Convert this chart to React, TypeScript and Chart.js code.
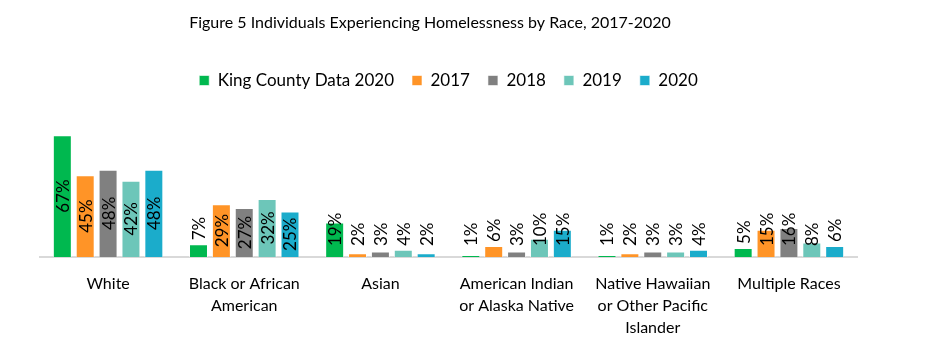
import React, { useEffect, useRef } from "react";
import { Chart, registerables } from "chart.js";

Chart.register(...registerables);

const categories: (string | string[])[] = [
  "White",
  ["Black or African", "American"],
  "Asian",
  ["American Indian", "or Alaska Native"],
  ["Native Hawaiian", "or Other Pacific", "Islander"],
  "Multiple Races",
];
const seriesNames = ["King County Data 2020", "2017", "2018", "2019", "2020"];
const kingCounty2020 = [67, 7, 19, 1, 1, 5];
const y2017 = [45, 29, 2, 6, 2, 15];
const y2018 = [48, 27, 3, 3, 3, 16];
const y2019 = [42, 32, 4, 10, 3, 8];
const y2020 = [48, 25, 2, 15, 4, 6];
const colors = ["#00B84F", "#FF9427", "#808080", "#6DC6B9", "#1BACCB"];
const titleText = "Figure 5 Individuals Experiencing Homelessness by Race, 2017-2020";

const FONT = "Lato, 'Liberation Sans', sans-serif";

const titlePlugin = {
  id: "customTitle",
  afterDraw(chart: any) {
    const ctx = chart.ctx;
    ctx.save();
    ctx.font = `16px ${FONT}`;
    ctx.fillStyle = "#000";
    ctx.textAlign = "center";
    ctx.textBaseline = "middle";
    ctx.fillText(titleText, 430, 23);
    ctx.restore();
  },
};

const barLabelPlugin = {
  id: "barLabels",
  afterDatasetsDraw(chart: any) {
    const ctx = chart.ctx;
    ctx.save();
    ctx.font = `17px ${FONT}`;
    ctx.fillStyle = "#000";
    chart.data.datasets.forEach((ds: any, di: number) => {
      const meta = chart.getDatasetMeta(di);
      meta.data.forEach((bar: any, i: number) => {
        const text = ds.data[i] + "%";
        const w = ctx.measureText(text).width;
        const top = bar.y;
        const base = bar.base;
        const h = base - top;
        ctx.save();
        ctx.translate(bar.x, 0);
        ctx.rotate(-Math.PI / 2);
        ctx.textBaseline = "middle";
        if (h >= w + 4) {
          ctx.textAlign = "center";
          ctx.fillText(text, -(top + base) / 2, 1);
        } else {
          let bottom = base - 11;
          if (h <= 14) bottom = Math.min(base - 11, top - 4);
          ctx.textAlign = "left";
          ctx.fillText(text, -bottom, 1);
        }
        ctx.restore();
      });
    });
    ctx.restore();
  },
};

export default function App() {
  const ref = useRef<HTMLCanvasElement>(null);
  useEffect(() => {
    document.body.style.margin = "0";
    const series = [kingCounty2020, y2017, y2018, y2019, y2020];
    const chart = new Chart(ref.current!, {
      type: "bar",
      data: {
        labels: categories,
        datasets: series.map((d, i) => ({
          label: seriesNames[i],
          data: d,
          backgroundColor: colors[i],
          borderColor: "rgba(255,255,255,0.6)",
          borderWidth: 1,
          categoryPercentage: 0.84,
          barPercentage: 0.83,
        })),
      },
      options: {
        animation: false,
        responsive: false,
        layout: { padding: { left: 40, right: 70, top: 54, bottom: 12 } },
        plugins: {
          title: { display: false },
          tooltip: { enabled: false },
          legend: {
            position: "top",
            labels: {
              boxWidth: 10,
              boxHeight: 10,
              padding: 18,
              color: "#000",
              font: { family: FONT, size: 17 },
            },
          },
        },
        scales: {
          x: {
            grid: { display: false },
            border: { color: "#D9D9D9", width: 2 },
            ticks: {
              color: "#000",
              font: { family: FONT, size: 16, lineHeight: 1.375 },
              maxRotation: 0,
              autoSkip: false,
              padding: 8,
            },
          },
          y: {
            display: false,
            min: 0,
            max: 87,
          },
        },
      },
      plugins: [titlePlugin, barLabelPlugin],
    });
    return () => chart.destroy();
  }, []);
  return (
    <div style={{ width: 927, height: 359 }}>
      <canvas ref={ref} width={927} height={359} style={{ width: 927, height: 359 }} />
    </div>
  );
}
